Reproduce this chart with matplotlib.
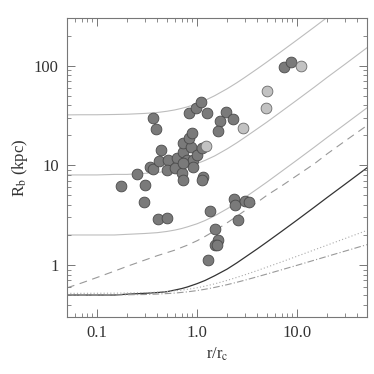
import matplotlib
matplotlib.use("Agg")
import matplotlib.pyplot as plt
from matplotlib.ticker import LogLocator, NullFormatter, FixedLocator, FixedFormatter

# --- DATA ---
x_model = [0.05, 0.07, 0.1, 0.15, 0.2, 0.3, 0.4, 0.5, 0.6, 0.7, 0.8, 1.0, 1.2,
           1.5, 2.0, 2.5, 3.0, 4.0, 5.0, 7.0, 10.0, 15.0, 20.0, 30.0, 50.0]
top_gray = [32.0, 32.1, 32.1, 32.3, 32.5, 33.1, 33.8, 34.8, 35.9, 37.2, 38.5,
            41.5, 44.7, 49.8, 58.5, 67.2, 75.9, 92.6, 108.5, 138.8, 180.5,
            244.2, 303.8, 410.6, 602.0]
mid_gray = [8.0, 8.0, 8.0, 8.1, 8.1, 8.3, 8.46, 8.7, 8.98, 9.3, 9.63, 10.4,
            11.18, 12.4, 14.6, 16.8, 19.0, 23.2, 27.1, 34.7, 45.1, 61.0, 76.0,
            102.6, 150.6]
low_gray = [2.0, 2.0, 2.0, 2.0, 2.03, 2.07, 2.11, 2.17, 2.24, 2.32, 2.41, 2.59,
            2.79, 3.11, 3.66, 4.20, 4.74, 5.79, 6.78, 8.68, 11.28, 15.26, 18.99,
            25.66, 37.6]
black_line = [0.50, 0.50, 0.50, 0.50, 0.51, 0.52, 0.529, 0.54, 0.561, 0.58,
              0.602, 0.65, 0.699, 0.78, 0.91, 1.05, 1.19, 1.45, 1.70, 2.17,
              2.82, 3.82, 4.75, 6.42, 9.41]
dotted_line = [0.520, 0.520, 0.521, 0.522, 0.524, 0.528, 0.535, 0.542, 0.551,
               0.560, 0.570, 0.591, 0.614, 0.647, 0.701, 0.751, 0.797, 0.879,
               0.952, 1.074, 1.224, 1.422, 1.582, 1.838, 2.22]
dashdot_line = [0.500, 0.500, 0.501, 0.502, 0.503, 0.506, 0.511, 0.517, 0.523,
                0.531, 0.538, 0.554, 0.571, 0.596, 0.635, 0.671, 0.704, 0.762,
                0.812, 0.895, 0.993, 1.12, 1.22, 1.375, 1.60]
dashed_line = [0.59, 0.66, 0.75, 0.87, 0.97, 1.12, 1.24, 1.33, 1.41, 1.50, 1.58,
               1.75, 1.93, 2.2, 2.65, 3.08, 3.5, 4.25, 5.0, 6.2, 7.9, 10.4,
               13.0, 17.4, 25.0]

dark_x = [0.174, 0.251, 0.302, 0.295, 0.339, 0.363, 0.363, 0.389, 0.437, 0.407,
          0.50, 0.42, 0.513, 0.50, 0.63, 0.60, 0.72, 0.72, 0.708, 0.72,
          0.79, 0.91, 0.91, 0.87, 0.83, 0.89, 1.0, 1.12, 1.15, 1.12,
          0.83, 0.98, 1.10, 1.26, 1.95, 2.29, 1.70, 1.62, 1.35, 1.51,
          1.62, 1.51, 1.58, 1.29, 2.34, 2.40, 3.02, 3.31, 2.57, 7.4,
          8.7, 0.72]
dark_y = [6.2, 8.2, 6.35, 4.3, 9.6, 9.2, 29.7, 23.1, 14.2, 2.9,
          2.97, 11.0, 11.3, 9.0, 11.8, 9.4, 13.6, 16.7, 8.4, 7.1,
          11.3, 11.3, 9.6, 15.2, 18.7, 21.0, 12.7, 14.9, 7.6, 7.1,
          33.3, 37.4, 43.0, 33.3, 34.1, 29.0, 27.7, 22.0, 3.5, 2.3,
          1.79, 1.6, 1.6, 1.13, 4.6, 4.0, 4.4, 4.3, 2.84, 96.0,
          108.0, 10.5]
light_x = [11.0, 5.0, 4.9, 2.88, 1.23]
light_y = [98.0, 55.0, 37.4, 23.6, 15.6]

x_ticks = [0.1, 1.0, 10.0]
x_labels = ["0.1", "1.0", "10.0"]
y_ticks = [1, 10, 100]
y_labels = ["1", "10", "100"]

plt.rcParams['font.family'] = ['Liberation Serif', 'DejaVu Serif']
plt.rcParams['mathtext.fontset'] = 'stix'

fig = plt.figure(figsize=(3.74, 3.74), dpi=100)
ax = fig.add_axes([0.179, 0.152, 0.802, 0.800])

ax.plot(x_model, top_gray, color='#bdbdbd', lw=0.8, zorder=1)
ax.plot(x_model, mid_gray, color='#bdbdbd', lw=0.8, zorder=1)
ax.plot(x_model, low_gray, color='#bdbdbd', lw=0.8, zorder=1)
ax.plot(x_model, dashed_line, color='#999999', lw=0.8, ls=(0, (7, 5)), zorder=1)
ax.plot(x_model, black_line, color='#333333', lw=0.9, zorder=1)
ax.plot(x_model, dotted_line, color='#aaaaaa', lw=0.8, ls=(0, (1, 2)), zorder=1)
ax.plot(x_model, dashdot_line, color='#999999', lw=0.8, ls=(0, (6, 2, 1, 2)), zorder=1)

ax.scatter(dark_x, dark_y, s=60, c='#7a7a7a', edgecolors='#4a4a4a', linewidths=0.6, zorder=3)
ax.scatter(light_x, light_y, s=60, c='#c2c2c2', edgecolors='#6a6a6a', linewidths=0.6, zorder=3)

ax.set_xscale('log')
ax.set_yscale('log')
ax.set_xlim(0.05, 50)
ax.set_ylim(0.3, 300)

ax.xaxis.set_major_locator(FixedLocator(x_ticks))
ax.xaxis.set_major_formatter(FixedFormatter(x_labels))
ax.yaxis.set_major_locator(FixedLocator(y_ticks))
ax.yaxis.set_major_formatter(FixedFormatter(y_labels))
ax.xaxis.set_minor_locator(LogLocator(base=10, subs=range(2, 10)))
ax.yaxis.set_minor_locator(LogLocator(base=10, subs=range(2, 10)))
ax.xaxis.set_minor_formatter(NullFormatter())
ax.yaxis.set_minor_formatter(NullFormatter())

ax.tick_params(which='both', direction='in', top=True, right=True, color='#777777')
ax.tick_params(which='major', length=6, width=0.7, labelsize=12, labelcolor='#333333', pad=6)
ax.tick_params(which='minor', length=3, width=0.6)
for sp in ax.spines.values():
    sp.set_color('#777777')
    sp.set_linewidth(0.8)

ax.set_xlabel(r'r/r$_{\rm c}$', fontsize=12, color='#333333', labelpad=3)
ax.set_ylabel(r'R$_{\rm b}$ (kpc)', fontsize=12, color='#333333', labelpad=3)

fig.savefig("out.png", dpi=100)
